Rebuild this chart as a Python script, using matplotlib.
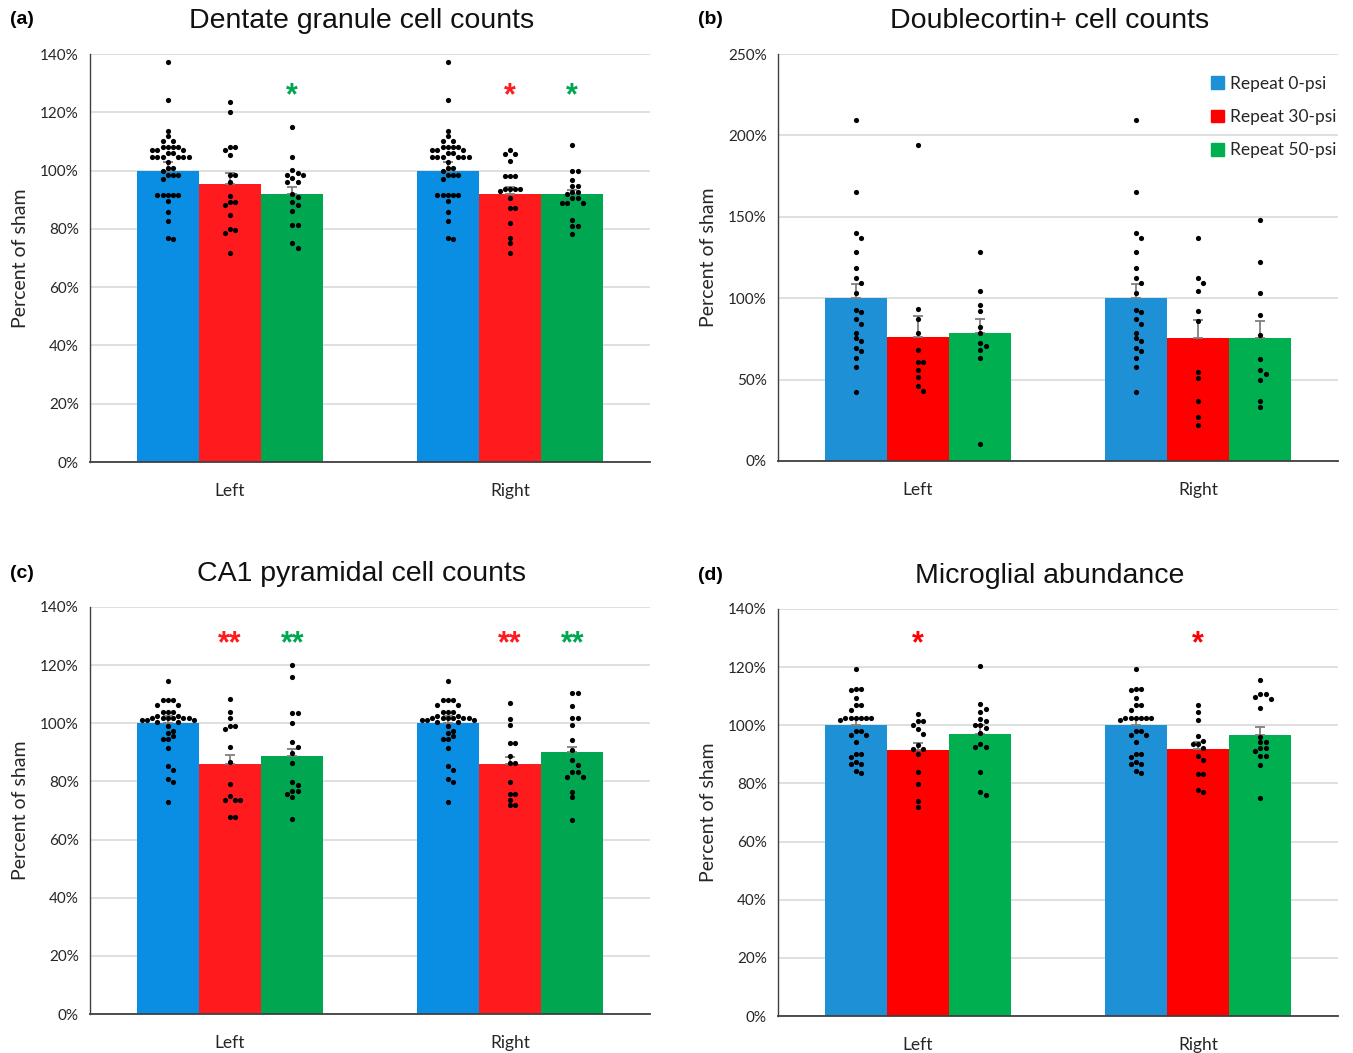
import numpy as np
import matplotlib
matplotlib.use("Agg")
import matplotlib.pyplot as plt
from matplotlib.patches import Patch

# ---------------- data ----------------
sides = ["Left", "Right"]
groups = ["Repeat 0-psi", "Repeat 30-psi", "Repeat 50-psi"]

# (a) Dentate granule cell counts
a_blue = [137.1, 124.2, 113.6, 111.7, 110.2, 110.2, 108.2, 108.2, 108.2, 108.2,
          107.1, 107.1, 107.1, 105.9, 105.9, 104.5, 104.5, 104.5, 104.5, 104.5,
          104.5, 103.1, 100.8, 100.8, 99.9, 98.5, 98.5, 98.5, 97.1, 91.7, 91.7,
          91.7, 91.7, 91.7, 89.4, 85.9, 82.7, 76.8, 76.6]
a_red_L = [123.7, 120.0, 108.2, 108.2, 107.1, 105.4, 98.5, 98.5, 96.2, 91.3,
           89.1, 89.1, 88.2, 84.8, 80.0, 79.7, 78.7, 71.6]
a_green_L = [115.1, 104.8, 100.2, 99.0, 98.5, 98.5, 97.6, 96.0, 96.0, 92.0,
             90.9, 89.1, 88.2, 86.2, 81.4, 81.4, 75.1, 73.4]
a_red_R = [107.1, 105.6, 105.6, 103.3, 98.2, 98.2, 98.2, 93.6, 93.6, 93.6, 93.6,
           93.0, 90.5, 87.1, 87.1, 81.9, 77.0, 75.1, 71.6]
a_green_R = [108.8, 100.0, 100.0, 96.6, 94.7, 94.7, 92.6, 92.6, 92.0, 90.5, 90.5,
             88.8, 88.8, 88.8, 83.1, 81.0, 81.0, 78.2]
a_means = [[100.0, 95.4, 92.0], [100.0, 92.0, 92.0]]
a_sem = [[2.8, 3.7, 2.5], [2.8, 2.2, 1.5]]

# (b) Doublecortin+ cell counts
b_blue = [209.4, 165.4, 139.9, 136.8, 128.6, 118.4, 112.3, 109.2, 103.5, 93.0,
          91.4, 87.3, 84.3, 78.7, 75.5, 74.0, 69.3, 67.5, 63.4, 57.7, 42.3]
b_red_L = [194.1, 93.5, 87.3, 78.5, 68.3, 60.7, 60.7, 56.2, 51.5, 46.0, 43.1]
b_green_L = [128.6, 104.7, 96.1, 92.0, 82.6, 78.5, 72.4, 70.6, 67.9, 63.2, 10.6]
b_red_R = [136.8, 112.3, 109.4, 104.7, 92.2, 85.7, 54.6, 50.9, 36.8, 27.0, 21.9]
b_green_R = [148.1, 122.1, 103.3, 89.8, 77.1, 62.8, 56.2, 53.6, 49.9, 36.8, 33.1]
b_means = [[100.0, 76.1, 78.5], [100.0, 75.5, 75.5]]
b_sem = [[8.8, 12.9, 8.8], [8.8, 11.4, 10.8]]

# (c) CA1 pyramidal cell counts
c_blue = [114.5, 108.0, 108.0, 108.0, 106.3, 106.3, 103.8, 103.8, 103.8, 102.6,
          102.6, 101.7, 101.7, 101.7, 101.7, 101.7, 101.7, 101.1, 101.1, 101.1,
          100.3, 100.3, 99.2, 97.5, 96.6, 95.5, 94.6, 94.6, 91.4, 85.4, 84.0,
          81.0, 79.9, 72.8]
c_red_L = [108.4, 103.8, 101.8, 99.2, 99.2, 98.0, 92.0, 86.8, 79.1, 75.1, 73.7,
           73.7, 73.7, 67.6, 67.6]
c_green_L = [120.2, 115.9, 103.4, 103.4, 100.0, 93.4, 91.7, 89.8, 86.2, 79.9,
             78.9, 76.6, 76.6, 75.6, 74.5, 67.0]
c_red_R = [106.9, 101.5, 99.4, 93.2, 93.2, 88.9, 86.3, 86.3, 79.9, 75.6, 75.6,
           73.7, 71.8, 71.8]
c_green_R = [110.5, 110.5, 105.9, 101.7, 101.7, 99.4, 94.3, 90.8, 87.4, 85.7,
             83.1, 83.1, 81.4, 81.4, 76.4, 74.5, 66.8]
c_means = [[100.0, 86.0, 88.7], [100.0, 86.0, 90.2]]
c_sem = [[2.6, 3.2, 2.4], [2.6, 2.5, 1.8]]

# (d) Microglial abundance
d_blue = [119.3, 112.6, 112.6, 112.2, 109.3, 106.9, 106.9, 105.3, 102.4, 102.4,
          102.4, 102.4, 102.4, 102.4, 101.8, 98.0, 98.0, 96.7, 96.7, 94.3, 90.2,
          90.2, 89.1, 87.4, 86.6, 86.6, 84.3, 83.7]
d_red_L = [103.8, 101.5, 101.5, 100.0, 98.6, 96.9, 93.2, 91.7, 91.7, 90.0, 83.9,
           79.9, 73.9, 72.0]
d_green_L = [120.5, 107.2, 105.7, 104.4, 102.1, 101.5, 100.0, 100.0, 98.9, 97.2,
             93.4, 92.5, 92.5, 83.9, 77.0, 75.9]
d_red_R = [106.9, 104.4, 101.7, 96.3, 94.6, 93.4, 93.4, 92.3, 89.4, 88.0, 83.1,
           83.1, 77.7, 77.0]
d_green_R = [115.6, 110.7, 110.7, 109.8, 109.0, 106.1, 96.1, 94.3, 94.3, 92.1,
             92.1, 91.2, 89.4, 89.4, 86.3, 75.1]
d_means = [[100.0, 91.4, 97.1], [100.0, 91.7, 96.6]]
d_sem = [[2.1, 2.4, 2.9], [2.1, 2.6, 2.9]]

titles = ["Dentate granule cell counts", "Doublecortin+ cell counts",
          "CA1 pyramidal cell counts", "Microglial abundance"]
panel_labels = ["(a)", "(b)", "(c)", "(d)"]

# significance marks: (side index, group index, text)
a_sig = [(0, 2, "*"), (1, 1, "*"), (1, 2, "*")]
b_sig = []
c_sig = [(0, 1, "**"), (0, 2, "**"), (1, 1, "**"), (1, 2, "**")]
d_sig = [(0, 1, "*"), (1, 1, "*")]

# ---------------- style ----------------
W, H = 1353, 1053
DPI = 100
plt.rcParams["font.family"] = ["Lato", "DejaVu Sans"]

colors_ac = ["#0a8ee3", "#fe1a1d", "#00a650"]
colors_bd = ["#1e90d6", "#ff0000", "#00b050"]

fig = plt.figure(figsize=(W / DPI, H / DPI), dpi=DPI)

# axes rectangles in pixels: left, top, right, bottom
rects = [(90, 54, 650, 462), (778, 54, 1338, 461),
         (90, 607, 650, 1014), (778, 609, 1338, 1016)]
ylims = [140, 250, 140, 140]
ysteps = [20, 50, 20, 20]
sig_y = [125.6, 0, 127.2, 127.9]

panels = [
    (a_blue, [a_red_L, a_green_L], [a_red_R, a_green_R], a_means, a_sem, a_sig),
    (b_blue, [b_red_L, b_green_L], [b_red_R, b_green_R], b_means, b_sem, b_sig),
    (c_blue, [c_red_L, c_green_L], [c_red_R, c_green_R], c_means, c_sem, c_sig),
    (d_blue, [d_red_L, d_green_L], [d_red_R, d_green_R], d_means, d_sem, d_sig),
]

bar_w = 0.2225
dot_d = 5.2  # px, dot spacing


def beeswarm(vals, px_per_unit_y, px_per_unit_x, d=dot_d):
    """Return x offsets (data units) so that dots do not overlap."""
    order = np.argsort(vals)[::-1]
    placed = []
    offs = np.zeros(len(vals))
    for i in order:
        y = vals[i] * px_per_unit_y
        cands = [0.0]
        for j in range(1, 12):
            cands += [j * d, -j * d]
        for cx in cands:
            ok = True
            for (px, py) in placed:
                if (px - cx) ** 2 + (py - y) ** 2 < (d * 0.98) ** 2:
                    ok = False
                    break
            if ok:
                break
        placed.append((cx, y))
        offs[i] = cx / px_per_unit_x
    return offs


for p, (rect, (blue, lefts, rights, means, sems, sigs)) in enumerate(zip(rects, panels)):
    l, t, r, b = rect
    ax = fig.add_axes([l / W, 1 - b / H, (r - l) / W, (b - t) / H])
    cols = colors_ac if p in (0, 2) else colors_bd
    ymax = ylims[p]
    ax.set_xlim(-0.5, 1.5)
    ax.set_ylim(0, ymax)
    ppu_y = (b - t) / ymax
    ppu_x = (r - l) / 2.0
    side_data = [[blue] + lefts, [blue] + rights]
    for s in range(2):
        for g in range(3):
            xc = s + (g - 1) * bar_w
            ax.bar(xc, means[s][g], width=bar_w, color=cols[g], zorder=2,
                   linewidth=0)
            ax.errorbar(xc, means[s][g], yerr=[[0], [sems[s][g]]], fmt="none",
                        ecolor="#7f7f7f", elinewidth=1.3, capsize=3.5,
                        capthick=1.3, zorder=3)
            vals = np.array(side_data[s][g], dtype=float)
            offs = beeswarm(vals, ppu_y, ppu_x)
            ax.scatter(xc + offs, vals, s=14, color="black", zorder=4,
                       linewidths=0)
    for (s, g, txt) in sigs:
        xc = s + (g - 1) * bar_w
        ax.text(xc, sig_y[p], txt, color=cols[g], ha="center", va="center",
                fontsize=22, fontweight="bold", family="Liberation Sans")
    ax.set_yticks(np.arange(0, ymax + 0.1, ysteps[p]))
    ax.set_yticklabels([f"{int(v)}%" for v in np.arange(0, ymax + 0.1, ysteps[p])])
    ax.set_xticks([0, 1])
    ax.set_xticklabels(sides)
    ax.tick_params(axis="y", length=0, labelsize=11, pad=8, colors="#262626")
    ax.tick_params(axis="x", length=0, labelsize=12.5, pad=15, colors="#262626")
    ax.grid(axis="y", color="#d9d9d9", linewidth=1.2, zorder=0)
    ax.set_axisbelow(True)
    for sp in ["top", "right"]:
        ax.spines[sp].set_visible(False)
    ax.spines["left"].set_color("#404040")
    ax.spines["bottom"].set_color("#404040")
    ax.spines["left"].set_linewidth(1.0)
    ax.spines["bottom"].set_linewidth(1.3)
    ax.set_ylabel("Percent of sham", fontsize=14, color="#262626", labelpad=8)
    ax.text(0.485, 1 + 33 / (b - t), titles[p], transform=ax.transAxes,
            ha="center", va="center", fontsize=20.5, family="Liberation Sans",
            color="#111111")
    fig.text((l - 80) / W, 1 - (t - 34) / H, panel_labels[p], ha="left",
             va="center", fontsize=14, fontweight="bold",
             family="Liberation Sans")
    if p == 1:
        handles = [Patch(color=c) for c in cols]
        ax.legend(handles, groups, loc="upper right",
                  bbox_to_anchor=(1.025, 0.985), frameon=False, fontsize=12.5,
                  handlelength=0.75, handleheight=0.75, handletextpad=0.35,
                  labelspacing=1.0, labelcolor="#262626")

fig.savefig("out.png", dpi=DPI)
